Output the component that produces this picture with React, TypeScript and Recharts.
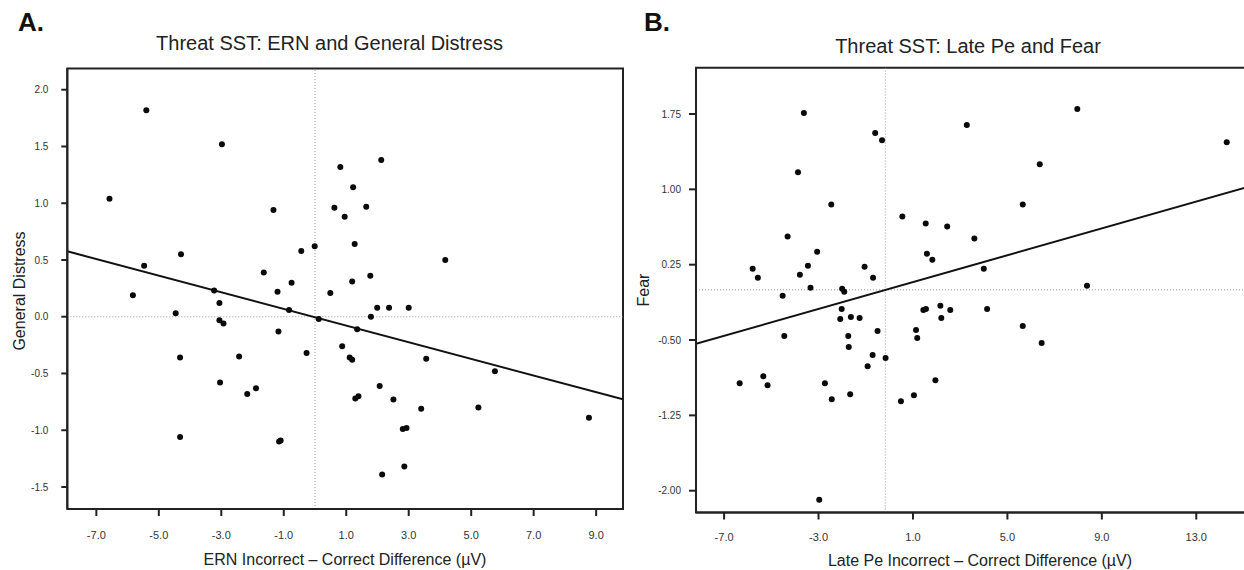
import React from 'react';
import { ScatterChart, Scatter, XAxis, YAxis, ReferenceLine, ReferenceArea } from 'recharts';

// Panel A: ERN difference vs General Distress
const ernDiff = [
  -5.40, -6.58, -4.29, -5.47, -5.83, -4.46, -4.32, -4.32, -2.98, 2.12,
  0.81, 1.22, -1.33, 0.62, 1.64, 0.95, 1.27, -0.01, -0.44, 4.17,
  -1.64, 1.77, -0.75, 1.19, -3.23, -1.20, 0.49, -3.06, 1.99, 2.37,
  3.00, -0.83, 1.79, 0.12, -3.06, -2.93, 1.35, -1.17, 0.87, -0.27,
  -2.43, 1.11, 1.19, 3.56, -3.04, 2.07, -1.89, -2.17, 1.29, 1.39,
  2.51, 3.40, 5.23, 2.81, 2.93, -1.15, -1.10, 2.86, 2.15, 5.76, 8.77,
];
const generalDistress = [
  1.82, 1.04, 0.55, 0.45, 0.19, 0.03, -0.36, -1.06, 1.52, 1.38,
  1.32, 1.14, 0.94, 0.96, 0.97, 0.88, 0.64, 0.62, 0.58, 0.50,
  0.39, 0.36, 0.30, 0.31, 0.23, 0.22, 0.21, 0.12, 0.08, 0.08,
  0.08, 0.06, 0.00, -0.02, -0.03, -0.06, -0.11, -0.13, -0.26, -0.32,
  -0.35, -0.36, -0.38, -0.37, -0.58, -0.61, -0.63, -0.68, -0.72, -0.70,
  -0.73, -0.81, -0.80, -0.99, -0.98, -1.10, -1.09, -1.32, -1.39, -0.48, -0.89,
];

// Panel B: Late Pe difference vs Fear
const latePeDiff = [
  -3.62, -0.60, -0.31, -3.87, -2.46, 0.55, 1.54, 2.45, -4.31, -3.06,
  1.59, 1.82, -5.79, -3.45, -1.05, -5.57, -3.79, -0.69, -3.34, -2.00,
  -1.91, -4.52, -2.02, 1.44, 1.55, 2.16, 2.58, -2.08, -1.63, -1.26,
  2.20, -4.45, -1.74, -0.50, 1.13, 1.18, -1.72, -0.71, -0.16, -0.92,
  -5.34, -6.34, -5.16, -2.73, 1.95, -1.66, -2.44, 1.04, 0.49, -2.97,
  7.96, 3.28, 14.29, 6.37, 5.65, 3.60, 4.00, 8.37, 4.14, 5.65, 6.45,
];
const fear = [
  1.76, 1.56, 1.49, 1.17, 0.85, 0.73, 0.66, 0.63, 0.53, 0.38,
  0.36, 0.30, 0.21, 0.24, 0.23, 0.12, 0.15, 0.12, 0.02, 0.01,
  -0.02, -0.06, -0.19, -0.20, -0.19, -0.16, -0.20, -0.29, -0.27, -0.28,
  -0.28, -0.46, -0.46, -0.41, -0.40, -0.48, -0.57, -0.65, -0.68, -0.76,
  -0.86, -0.93, -0.95, -0.93, -0.90, -1.04, -1.09, -1.05, -1.11, -2.09,
  1.80, 1.64, 1.47, 1.25, 0.85, 0.51, 0.21, 0.04, -0.19, -0.36, -0.53,
];

const ernTicks = [-7, -5, -3, -1, 1, 3, 5, 7, 9];
const distressTicks = [-1.5, -1, -0.5, 0, 0.5, 1, 1.5, 2];
const peTicks = [-7, -3, 1, 5, 9, 13];
const fearTicks = [-2, -1.25, -0.5, 0.25, 1, 1.75];

const ernDomain: [number, number] = [-7.93, 9.86];
const distressDomain: [number, number] = [-1.694, 2.187];
const peDomain: [number, number] = [-8.19, 15.36];
const fearDomain: [number, number] = [-2.217, 2.21];

// regression fits: [intercept, slope]
const fitA = [-0.005, -0.0733];
const fitB = [0.010, 0.0668];

// mean reference lines
const refA = [0, 0];
const refB = [-0.17, 0];

const dataA = ernDiff.map((x, i) => ({ x, y: generalDistress[i] }));
const dataB = latePeDiff.map((x, i) => ({ x, y: fear[i] }));

const FONT = '"Liberation Sans", Arial, Helvetica, sans-serif';
const AXIS = '#222';

const Dot = (props: any) => <circle cx={props.cx} cy={props.cy} r={3} fill="#0a0a0a" />;

const seg = (fit: number[], dom: [number, number]) => [
  { x: dom[0], y: fit[0] + fit[1] * dom[0] },
  { x: dom[1], y: fit[0] + fit[1] * dom[1] },
];

export default function App() {
  return (
    <div style={{ position: 'absolute', left: 0, top: 0, width: 1244, height: 570, overflow: 'hidden', background: '#fff', fontFamily: FONT }}>
      <div style={{ position: 'absolute', left: 0, top: 0 }}>
        <ScatterChart width={640} height={570} margin={{ top: 68.5, right: 17, bottom: 0, left: 17.3 }}>
          <XAxis
            type="number" dataKey="x" domain={ernDomain} ticks={ernTicks} allowDataOverflow
            tickFormatter={(v: number) => v.toFixed(1)} height={61}
            tickSize={7} tickMargin={15}
            axisLine={{ stroke: AXIS, strokeWidth: 2 }} tickLine={{ stroke: AXIS, strokeWidth: 2 }}
            tick={{ fill: '#333', fontSize: 11, fontFamily: FONT }}
          />
          <YAxis
            type="number" dataKey="y" domain={distressDomain} ticks={distressTicks} allowDataOverflow
            tickFormatter={(v: number) => v.toFixed(1)} width={50}
            tickSize={6} tickMargin={13}
            axisLine={{ stroke: AXIS, strokeWidth: 2 }} tickLine={{ stroke: AXIS, strokeWidth: 2 }}
            tick={{ fill: '#333', fontSize: 10, fontFamily: FONT }}
          />
          <ReferenceArea x1={ernDomain[0]} x2={ernDomain[1]} y1={distressDomain[0]} y2={distressDomain[1]}
            fill="none" stroke={AXIS} strokeWidth={2} ifOverflow="visible" />
          <ReferenceLine x={refA[0]} stroke="#999" strokeDasharray="1 2" strokeWidth={1} />
          <ReferenceLine y={refA[1]} stroke="#999" strokeDasharray="1 2" strokeWidth={1} />
          <ReferenceLine segment={seg(fitA, ernDomain)} stroke="#111" strokeWidth={2} ifOverflow="hidden" />
          <Scatter data={dataA} shape={Dot} isAnimationActive={false} />
        </ScatterChart>
      </div>
      <div style={{ position: 'absolute', left: 620, top: 0 }}>
        <ScatterChart width={640} height={570} margin={{ top: 67.8, right: 8, bottom: 0, left: 16 }}>
          <XAxis
            type="number" dataKey="x" domain={peDomain} ticks={peTicks} allowDataOverflow
            tickFormatter={(v: number) => v.toFixed(1)} height={57.5}
            tickSize={7} tickMargin={14}
            axisLine={{ stroke: AXIS, strokeWidth: 2 }} tickLine={{ stroke: AXIS, strokeWidth: 2 }}
            tick={{ fill: '#333', fontSize: 11, fontFamily: FONT }}
          />
          <YAxis
            type="number" dataKey="y" domain={fearDomain} ticks={fearTicks} allowDataOverflow
            tickFormatter={(v: number) => v.toFixed(2)} width={60}
            tickSize={7} tickMargin={8}
            axisLine={{ stroke: AXIS, strokeWidth: 2 }} tickLine={{ stroke: AXIS, strokeWidth: 2 }}
            tick={{ fill: '#333', fontSize: 10, fontFamily: FONT }}
          />
          <ReferenceArea x1={peDomain[0]} x2={peDomain[1]} y1={fearDomain[0]} y2={fearDomain[1]}
            fill="none" stroke={AXIS} strokeWidth={2} ifOverflow="visible" />
          <ReferenceLine x={refB[0]} stroke="#999" strokeDasharray="1 2" strokeWidth={1} />
          <ReferenceLine y={refB[1]} stroke="#999" strokeDasharray="1 2" strokeWidth={1} />
          <ReferenceLine segment={seg(fitB, peDomain)} stroke="#111" strokeWidth={2} ifOverflow="hidden" />
          <Scatter data={dataB} shape={Dot} isAnimationActive={false} />
        </ScatterChart>
      </div>
      <svg width={1244} height={570} style={{ position: 'absolute', left: 0, top: 0, pointerEvents: 'none' }} fontFamily={FONT}>
        <text x={18} y={31} fontSize={26} fontWeight="bold" fill="#111">A.</text>
        <text x={329.5} y={50} fontSize={20} textAnchor="middle" fill="#222">Threat SST: ERN and General Distress</text>
        <text x={345} y={565} fontSize={16} textAnchor="middle" fill="#222">ERN Incorrect – Correct Difference (µV)</text>
        <text x={25} y={291} fontSize={16} textAnchor="middle" fill="#222" transform="rotate(-90 25 291)">General Distress</text>
        <text x={644} y={31} fontSize={26} fontWeight="bold" fill="#111">B.</text>
        <text x={968} y={53} fontSize={20} textAnchor="middle" fill="#222">Threat SST: Late Pe and Fear</text>
        <text x={980} y={566} fontSize={16} textAnchor="middle" fill="#222">Late Pe Incorrect – Correct Difference (µV)</text>
        <text x={649} y={290} fontSize={16} textAnchor="middle" fill="#222" transform="rotate(-90 649 290)">Fear</text>
      </svg>
    </div>
  );
}
